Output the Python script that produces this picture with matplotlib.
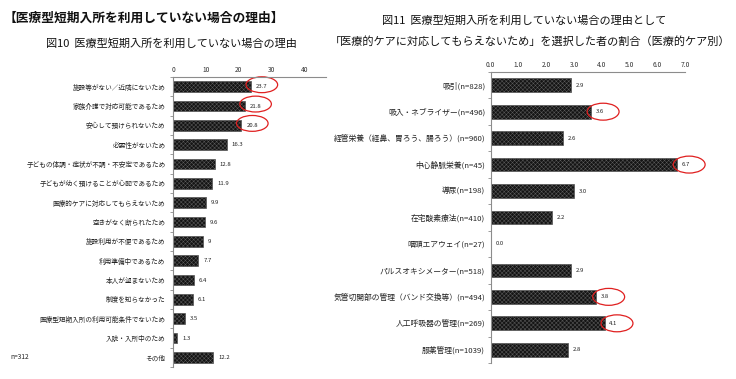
import matplotlib
matplotlib.use("Agg")
import matplotlib.pyplot as plt
from matplotlib.patches import Ellipse
import numpy as np

plt.rcParams['font.family'] = ['Noto Sans CJK JP', 'DejaVu Sans']
plt.rcParams['hatch.linewidth'] = 0.35

# ---- data: figure 10 ----
left_categories = [
    "施設等がない／近隣にないため",
    "家族介護で対応可能であるため",
    "安心して預けられないため",
    "必要性がないため",
    "子どもの体調・症状が不調・不安定であるため",
    "子どもが幼く預けることが心配であるため",
    "医療的ケアに対応してもらえないため",
    "空きがなく断られたため",
    "施設利用が不便であるため",
    "利用準備中であるため",
    "本人が望まないため",
    "制度を知らなかった",
    "医療型短期入所の利用可能条件でないため",
    "入院・入所中のため",
    "その他",
]
left_values = [23.7, 21.8, 20.8, 16.3, 12.8, 11.9, 9.9, 9.6, 9.0, 7.7, 6.4, 6.1, 3.5, 1.3, 12.2]
left_value_labels = ["23.7", "21.8", "20.8", "16.3", "12.8", "11.9", "9.9", "9.6", "9", "7.7", "6.4", "6.1", "3.5", "1.3", "12.2"]
left_ticks = [0, 10, 20, 30, 40]
left_highlight = [0, 1, 2]

# ---- data: figure 11 ----
right_categories = [
    "吸引(n=828)",
    "吸入・ネブライザー(n=496)",
    "経管栄養（経鼻、胃ろう、腸ろう）(n=960)",
    "中心静脈栄養(n=45)",
    "導尿(n=198)",
    "在宅酸素療法(n=410)",
    "咽頭エアウェイ(n=27)",
    "パルスオキシメーター(n=518)",
    "気管切開部の管理（バンド交換等）(n=494)",
    "人工呼吸器の管理(n=269)",
    "服薬管理(n=1039)",
]
right_values = [2.9, 3.6, 2.6, 6.7, 3.0, 2.2, 0.0, 2.9, 3.8, 4.1, 2.8]
right_ticks = [0, 1, 2, 3, 4, 5, 6, 7]
right_highlight = [1, 3, 8, 9]

W, H = 736, 379
fig = plt.figure(figsize=(W / 100, H / 100), dpi=100)

def px_axes(x0, y0, x1, y1):
    return fig.add_axes([x0 / W, 1 - y1 / H, (x1 - x0) / W, (y1 - y0) / H])

BAR_FACE = "#141414"
BAR_EDGE = "#5a5a5a"
SPINE = "#8c8c8c"

def style_axes(ax, cats, xlim, ticks, ticklabels, label_fs, pad):
    n = len(cats)
    ax.set_xlim(*xlim)
    ax.set_ylim(n - 0.5, -0.5)
    ax.xaxis.tick_top()
    ax.set_xticks(ticks)
    ax.set_xticklabels(ticklabels, fontsize=4.8, color="#333333")
    ax.tick_params(axis="x", length=0, pad=2)
    ax.set_yticks(np.arange(n))
    ax.set_yticklabels(cats, fontsize=label_fs, color="#222222")
    ax.tick_params(axis="y", which="major", length=0, pad=pad)
    ax.set_yticks(np.arange(n + 1) - 0.5, minor=True)
    ax.tick_params(axis="y", which="minor", length=2.5, width=0.6, color=SPINE, direction="out")
    for s in ["right", "bottom"]:
        ax.spines[s].set_visible(False)
    for s in ["top", "left"]:
        ax.spines[s].set_color(SPINE)
        ax.spines[s].set_linewidth(0.8)
    ax.patch.set_alpha(0)

# ---- left chart ----
axL = px_axes(173, 77, 326, 367)
yL = np.arange(len(left_categories))
axL.barh(yL, left_values, height=0.55, color=BAR_FACE, edgecolor=BAR_EDGE,
         hatch="xxxxxxxx", linewidth=0.5)
style_axes(axL, left_categories, (0, 46.5), left_ticks, [str(t) for t in left_ticks], 4.8, 5.5)
for y, v, lab in zip(yL, left_values, left_value_labels):
    axL.annotate(lab, (v, y), xytext=(3.5, 0), textcoords="offset points",
                 va="center", ha="left", fontsize=4.3, color="#222222")
for i in left_highlight:
    axL.add_patch(Ellipse((left_values[i] + 3.3, i - 0.1), 9.6, 0.82, fill=False,
                          edgecolor="#e02020", linewidth=0.9, clip_on=False))

# ---- right chart ----
axR = px_axes(490.7, 72, 685, 363)
yR = np.arange(len(right_categories))
axR.barh(yR, right_values, height=0.52, color=BAR_FACE, edgecolor=BAR_EDGE,
         hatch="xxxxxxxx", linewidth=0.5)
style_axes(axR, right_categories, (0, 7), right_ticks, [f"{t:.1f}" for t in right_ticks], 5.6, 4)
for y, v in zip(yR, right_values):
    axR.annotate(f"{v:.1f}", (v, y), xytext=(3.5, 0), textcoords="offset points",
                 va="center", ha="left", fontsize=4.3, color="#222222")
for i in right_highlight:
    axR.add_patch(Ellipse((right_values[i] + 0.45, i), 1.15, 0.64, fill=False,
                          edgecolor="#e02020", linewidth=0.9, clip_on=False))

# ---- titles ----
fig.text(4 / W, 1 - 18 / H, "【医療型短期入所を利用していない場合の理由】", fontsize=9.2,
         fontweight="bold", va="center", ha="left", color="#111111")
fig.text(171 / W, 1 - 43 / H, "図10  医療型短期入所を利用していない場合の理由", fontsize=8,
         va="center", ha="center", color="#111111")
fig.text(524 / W, 1 - 20 / H, "図11  医療型短期入所を利用していない場合の理由として", fontsize=8,
         va="center", ha="center", color="#111111")
fig.text(530 / W, 1 - 41 / H, "「医療的ケアに対応してもらえないため」を選択した者の割合（医療的ケア別）",
         fontsize=8, va="center", ha="center", color="#111111")
fig.text(10 / W, 1 - 357 / H, "n=312", fontsize=4.8, va="center", ha="left", color="#222222")

fig.savefig("out.png", dpi=100)
